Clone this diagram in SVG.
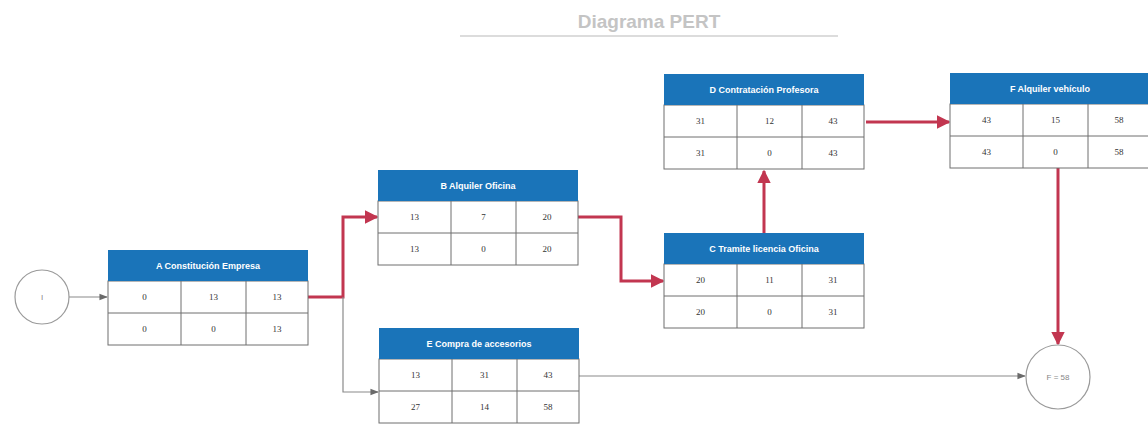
<svg xmlns="http://www.w3.org/2000/svg" width="1148" height="425" viewBox="0 0 1148 425">
<defs>
<style>
.hdr{fill:#1a74b9;}
.box{fill:#ffffff;stroke:#6f6f6f;stroke-width:1;}
.grid{stroke:#6f6f6f;stroke-width:1;}
.ht{font-family:"Liberation Sans",Arial,sans-serif;font-size:9px;font-weight:bold;fill:#ffffff;text-anchor:middle;}
.ct{font-family:"Liberation Serif","Times New Roman",serif;font-size:9px;fill:#333333;text-anchor:middle;}
.circ{fill:#ffffff;stroke:#9a9a9a;stroke-width:1.2;}
.cl{font-family:"Liberation Sans",Arial,sans-serif;font-size:8px;fill:#888888;text-anchor:middle;}
.red{fill:none;stroke:#c23650;stroke-width:3;}
.gray{fill:none;stroke:#8a8a8a;stroke-width:1.2;}
.title{font-family:"Liberation Sans",Arial,sans-serif;font-size:19px;font-weight:bold;fill:#c4c4c4;text-anchor:middle;}
</style>
<marker id="ar" viewBox="0 0 10 10" refX="9" refY="5" markerWidth="4.5" markerHeight="4.5" orient="auto" markerUnits="strokeWidth"><path d="M0,0 L10,5 L0,10 z" fill="#c23650"/></marker>
<marker id="ag" viewBox="0 0 10 10" refX="9" refY="5" markerWidth="9" markerHeight="7" orient="auto" markerUnits="strokeWidth"><path d="M0,1 L10,5 L0,9 z" fill="#6a6a6a"/></marker>
</defs>
<rect width="1148" height="425" fill="#ffffff"/>
<g id="title">
<text class="title" x="649" y="28">Diagrama PERT</text>
<line x1="460" y1="36" x2="838" y2="36" stroke="#dcdcdc" stroke-width="2"/>
</g>
<g id="connectors">
<path class="gray" d="M69,297 L107,297" marker-end="url(#ag)"/>
<path class="red" d="M308,297 L343,297 L343,217 L377,217" marker-end="url(#ar)"/>
<path class="gray" d="M343,297 L343,392 L378,392" marker-end="url(#ag)"/>
<path class="red" d="M578,217 L621,217 L621,281 L663,281" marker-end="url(#ar)"/>
<path class="red" d="M764,233 L764,171" marker-end="url(#ar)"/>
<path class="red" d="M866,122 L949,122" marker-end="url(#ar)"/>
<path class="red" d="M1058,168 L1058,344" marker-end="url(#ar)"/>
<path class="gray" d="M578,376 L1025,376" marker-end="url(#ag)"/>
</g>
<g id="node-I">
<circle class="circ" cx="42" cy="297" r="27"/>
<text class="cl" x="42" y="300">I</text>
</g>
<g id="node-F-end">
<circle class="circ" cx="1058" cy="377" r="32"/>
<text class="cl" x="1058" y="380">F = 58</text>
</g>
<g id="node-A" transform="translate(108,250)">
<rect class="box" x="0" y="31" width="200" height="64"/>
<rect class="hdr" x="0" y="0" width="200" height="31"/>
<line class="grid" x1="0" y1="63" x2="200" y2="63"/>
<line class="grid" x1="73" y1="31" x2="73" y2="95"/>
<line class="grid" x1="138" y1="31" x2="138" y2="95"/>
<text class="ht" x="100" y="19">A  Constitución Empresa</text>
<text class="ct" x="36.5" y="50">0</text><text class="ct" x="105.5" y="50">13</text><text class="ct" x="169" y="50">13</text>
<text class="ct" x="36.5" y="82">0</text><text class="ct" x="105.5" y="82">0</text><text class="ct" x="169" y="82">13</text>
</g>
<g id="node-B" transform="translate(378,170)">
<rect class="box" x="0" y="31" width="200" height="64"/>
<rect class="hdr" x="0" y="0" width="200" height="31"/>
<line class="grid" x1="0" y1="63" x2="200" y2="63"/>
<line class="grid" x1="73" y1="31" x2="73" y2="95"/>
<line class="grid" x1="138" y1="31" x2="138" y2="95"/>
<text class="ht" x="100" y="19">B Alquiler Oficina</text>
<text class="ct" x="36.5" y="50">13</text><text class="ct" x="105.5" y="50">7</text><text class="ct" x="169" y="50">20</text>
<text class="ct" x="36.5" y="82">13</text><text class="ct" x="105.5" y="82">0</text><text class="ct" x="169" y="82">20</text>
</g>
<g id="node-C" transform="translate(664,233)">
<rect class="box" x="0" y="31" width="200" height="64"/>
<rect class="hdr" x="0" y="0" width="200" height="31"/>
<line class="grid" x1="0" y1="63" x2="200" y2="63"/>
<line class="grid" x1="73" y1="31" x2="73" y2="95"/>
<line class="grid" x1="138" y1="31" x2="138" y2="95"/>
<text class="ht" x="100" y="19">C Tramite licencia Oficina</text>
<text class="ct" x="36.5" y="50">20</text><text class="ct" x="105.5" y="50">11</text><text class="ct" x="169" y="50">31</text>
<text class="ct" x="36.5" y="82">20</text><text class="ct" x="105.5" y="82">0</text><text class="ct" x="169" y="82">31</text>
</g>
<g id="node-D" transform="translate(664,74)">
<rect class="box" x="0" y="31" width="200" height="64"/>
<rect class="hdr" x="0" y="0" width="200" height="31"/>
<line class="grid" x1="0" y1="63" x2="200" y2="63"/>
<line class="grid" x1="73" y1="31" x2="73" y2="95"/>
<line class="grid" x1="138" y1="31" x2="138" y2="95"/>
<text class="ht" x="100" y="19">D Contratación Profesora</text>
<text class="ct" x="36.5" y="50">31</text><text class="ct" x="105.5" y="50">12</text><text class="ct" x="169" y="50">43</text>
<text class="ct" x="36.5" y="82">31</text><text class="ct" x="105.5" y="82">0</text><text class="ct" x="169" y="82">43</text>
</g>
<g id="node-F" transform="translate(950,73)">
<rect class="box" x="0" y="31" width="200" height="64"/>
<rect class="hdr" x="0" y="0" width="200" height="31"/>
<line class="grid" x1="0" y1="63" x2="200" y2="63"/>
<line class="grid" x1="73" y1="31" x2="73" y2="95"/>
<line class="grid" x1="138" y1="31" x2="138" y2="95"/>
<text class="ht" x="100" y="19">F Alquiler vehículo</text>
<text class="ct" x="36.5" y="50">43</text><text class="ct" x="105.5" y="50">15</text><text class="ct" x="169" y="50">58</text>
<text class="ct" x="36.5" y="82">43</text><text class="ct" x="105.5" y="82">0</text><text class="ct" x="169" y="82">58</text>
</g>
<g id="node-E" transform="translate(379,328)">
<rect class="box" x="0" y="31" width="200" height="64"/>
<rect class="hdr" x="0" y="0" width="200" height="31"/>
<line class="grid" x1="0" y1="63" x2="200" y2="63"/>
<line class="grid" x1="73" y1="31" x2="73" y2="95"/>
<line class="grid" x1="138" y1="31" x2="138" y2="95"/>
<text class="ht" x="100" y="19">E Compra de accesorios</text>
<text class="ct" x="36.5" y="50">13</text><text class="ct" x="105.5" y="50">31</text><text class="ct" x="169" y="50">43</text>
<text class="ct" x="36.5" y="82">27</text><text class="ct" x="105.5" y="82">14</text><text class="ct" x="169" y="82">58</text>
</g>
</svg>
